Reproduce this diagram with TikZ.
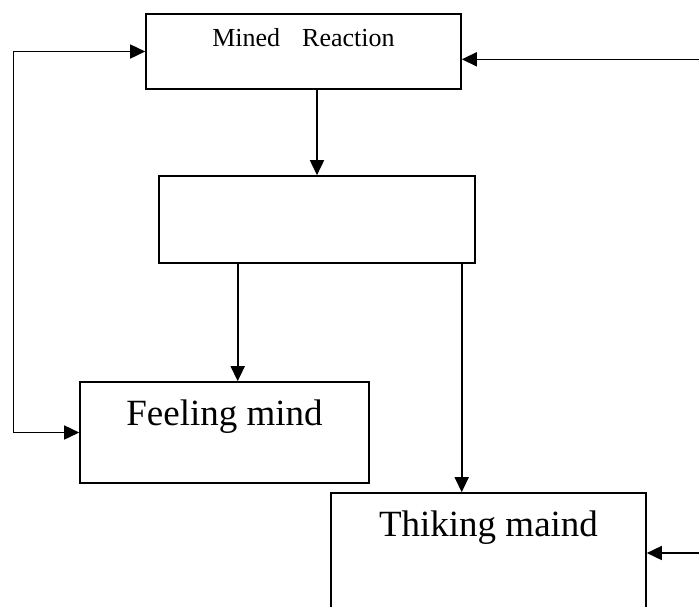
\documentclass[tikz,border=0pt]{standalone}
\usepackage{fontspec}
\setmainfont{Liberation Serif}
\usetikzlibrary{arrows.meta}

\begin{document}
\begin{tikzpicture}[x=1pt,y=1pt,>={Triangle[length=15pt,width=14pt]},line width=1.6pt,
        box/.style={draw,rectangle,inner sep=0pt},
        small/.style={font=\fontsize{26}{30}\selectfont},
        big/.style={font=\fontsize{37}{44}\selectfont}]
            \useasboundingbox (0,0) rectangle (699,-606);
            \clip (0,0) rectangle (699,-606);

            \node   [box,minimum width=315pt,minimum height=75pt,
                     label={[small,anchor=base,yshift=-33.3pt]north:{Mined\hspace{22pt}Reaction}}]
                                                    (mined) at (303.5,-51.5)  {};
            \node   [box,minimum width=316pt,minimum height=87pt]
                                                    (blank) at (317,-219.5)   {};
            \node   [box,minimum width=289pt,minimum height=101pt,
                     label={[big,anchor=base,yshift=-44pt]north:Feeling mind}]
                                                    (feel)  at (224.5,-432.5) {};
            \node   [box,minimum width=315pt,minimum height=130pt,
                     label={[big,anchor=base,yshift=-44pt]north:Thiking maind}]
                                                    (think) at (488.5,-558)   {};

            \coordinate (lft) at (13.3,0);
            \coordinate (in1) at (699,-59.3);
            \coordinate (in2) at (699,-553);

            \draw   [->] (mined.south -| blank.north) -- (blank.north);
            \draw   [->] ([xshift=-79.3pt]blank.south) -- ([xshift=-79.3pt]blank.south |- feel.north);
            \draw   [->] ([xshift=144.7pt]blank.south) -- ([xshift=144.7pt]blank.south |- think.north);
            \draw   [<->] (mined.west) -- (mined.west -| lft) -- (feel.west -| lft) -- (feel.west);
            \draw   [->] (in1) -- (in1 -| mined.east);
            \draw   [->] (in2) -- (in2 -| think.east);
        \end{tikzpicture}
\end{document}
